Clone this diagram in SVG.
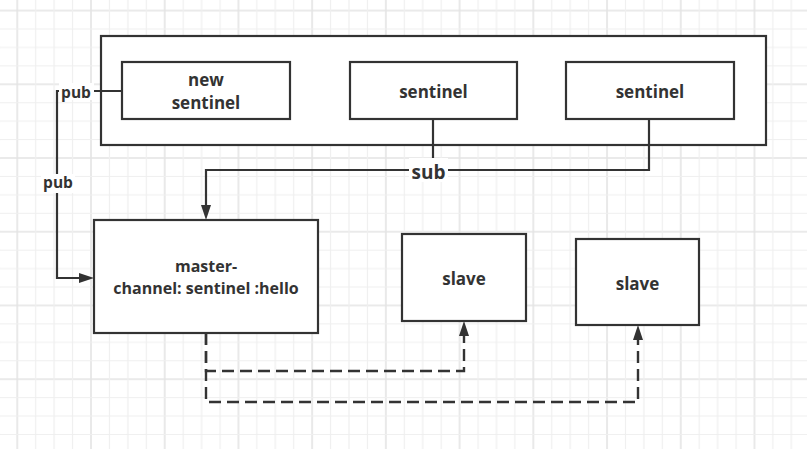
<svg xmlns="http://www.w3.org/2000/svg" width="807" height="449" viewBox="0 0 807 449">
  <style>
    .box { fill: #ffffff; stroke: #333333; stroke-width: 2.2; }
    .wire { fill: none; stroke: #333333; stroke-width: 2.2; }
    .dash { fill: none; stroke: #333333; stroke-width: 2.4; stroke-dasharray: 12 6; }
    .label { font-family: "Open Sans", "Liberation Sans", sans-serif; font-weight: 700; fill: #333333; text-anchor: middle; }
    .node { font-size: 17px; }
    .tag { font-size: 15.5px; }
    .tagbg { fill: #ffffff; stroke: none; }
  </style>
  <defs>
    <pattern id="grid" patternUnits="userSpaceOnUse" x="16.28" y="9.58" width="73.72" height="73.72">
      <path d="M1 0V73.72M0 1H73.72" stroke="#e4e4e4" stroke-width="1.6" fill="none"/>
      <path d="M19.43 0V73.72M37.86 0V73.72M56.29 0V73.72M0 19.43H73.72M0 37.86H73.72M0 56.29H73.72" stroke="#efefef" stroke-width="1.2" fill="none"/>
    </pattern>
    <marker id="arrow" markerUnits="userSpaceOnUse" markerWidth="16" markerHeight="12" refX="0" refY="5" orient="auto" viewBox="0 0 16 10">
      <path d="M0 0L15 5L0 10Z" fill="#333333"/>
    </marker>
  </defs>

  <!-- background grid -->
  <rect width="807" height="449" fill="#ffffff"/>
  <rect width="807" height="449" fill="url(#grid)"/>

  <!-- sentinel group container -->
  <g id="sentinel-group">
    <rect class="box" x="101" y="36" width="665" height="109"/>
  </g>

  <!-- connectors -->
  <g id="connectors">
    <path class="wire" d="M433 119V170"/>
    <path class="wire" d="M649 119V170H206V205" marker-end="url(#arrow)"/>
    <path class="wire" d="M122 91H57V278H79" marker-end="url(#arrow)"/>
    <path class="dash" d="M206 333V371H464V336" marker-end="url(#arrow)"/>
    <path class="dash" d="M206 333V402H638V340" marker-end="url(#arrow)"/>
    <!-- connector labels -->
    <rect class="tagbg" x="409" y="158" width="39" height="24"/>
    <text class="label" x="428.5" y="179" font-size="19">sub</text>
    <rect class="tagbg" x="59" y="83" width="35" height="17"/>
    <text class="label tag" x="76" y="98">pub</text>
    <rect class="tagbg" x="41" y="174" width="34" height="19"/>
    <text class="label tag" x="58" y="188">pub</text>
  </g>

  <g id="new-sentinel">
    <rect class="box" x="122" y="62" width="168" height="57"/>
    <text class="label node" x="206" y="86">new</text>
    <text class="label node" x="206" y="109">sentinel</text>
  </g>

  <g id="sentinel-1">
    <rect class="box" x="350" y="62" width="167" height="57"/>
    <text class="label node" x="433.5" y="98">sentinel</text>
  </g>

  <g id="sentinel-2">
    <rect class="box" x="566" y="62" width="168" height="57"/>
    <text class="label node" x="650" y="98">sentinel</text>
  </g>

  <g id="master">
    <rect class="box" x="94" y="220" width="224" height="113"/>
    <text class="label" x="206" y="272" font-size="16">master-</text>
    <text class="label" x="206" y="294" font-size="16">channel: sentinel :hello</text>
  </g>

  <g id="slave-1">
    <rect class="box" x="402" y="234" width="124" height="87"/>
    <text class="label node" x="464" y="285">slave</text>
  </g>

  <g id="slave-2">
    <rect class="box" x="576" y="239" width="123" height="86"/>
    <text class="label node" x="637.5" y="290">slave</text>
  </g>
</svg>
